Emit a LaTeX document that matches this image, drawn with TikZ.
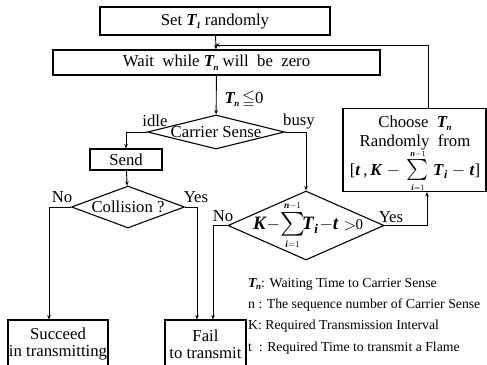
\documentclass[tikz,border=0pt]{standalone}
\usepackage{amsmath,amssymb}
\usepackage{fontspec}
\setmainfont{Liberation Serif}
\usetikzlibrary{shapes.geometric,arrows.meta}

% bold italic variables
\newcommand{\bvar}[1]{\textbf{\textit{#1}}}
\newcommand{\Tsub}[1]{\bvar{T}\kern-0.06em\raisebox{-0.45ex}{\fontsize{9}{9}\selectfont\bvar{#1}}}
% summation with small limits above and below
\newcommand{\sumlim}{\mathop{\scalebox{1.25}{$\textstyle\sum$}}\limits_{\scriptscriptstyle\text{\bvar{i}}=1}^{\scriptscriptstyle\text{\bvar{n}}-1}}

\tikzset{
  main/.style={font=\fontsize{16.8}{18}\selectfont},
  box/.style={draw, line width=1.1bp, rectangle, inner sep=0pt, align=center, main},
  decision/.style={draw, line width=1.1bp, diamond, inner sep=0pt},
  flow/.style={line width=0.9bp, -{Stealth[length=4.5bp,width=3.5bp]}},
  tag/.style={main, inner sep=0pt},
  legend/.style={font=\fontsize{13.8}{15}\selectfont, anchor=west, inner sep=0pt}
}

\begin{document}
\begin{tikzpicture}[x=1bp,y=-1bp]
\useasboundingbox (0,0) rectangle (487,364);

% process boxes
\node[box, minimum width=230bp, minimum height=28bp] (set) at (215,21) {Set \Tsub{1} randomly};
\node[box, minimum width=327bp, minimum height=25bp] (wait) at (216.5,62.5) {Wait\ \ while \Tsub{n} will\ \ be\ \ zero};
\node[box, minimum width=72bp, minimum height=21bp] (send) at (126,159.5) {Send};
\node[box, minimum width=143bp, minimum height=83bp] (choose) at (414.5,150) {};
\node[main, align=center, inner sep=0pt] (choosetxt) at (415,154)
  {Choose\ \ \Tsub{n}\\[1bp] Randomly\ \ from\\[-1bp]
   [\bvar{t}\,,\,\bvar{K}\ $-\ \sumlim$\ \bvar{T}$_{\text{\bvar{i}}}$\ $-$\ \bvar{t}]};
\node[box, minimum width=100bp, minimum height=48bp] (succeed) at (58,344) {Succeed\\[-1bp]in transmitting};
\node[box, minimum width=81bp, minimum height=48bp] (fail) at (205.5,344) {Fail\\[-1bp]to transmit};

% decisions
\node[decision, minimum width=137bp, minimum height=34bp] (cs) at (216,132) {};
\node[main] at (cs.center) {Carrier Sense};
\node[decision, minimum width=113bp, minimum height=42bp] (col) at (128,207) {};
\node[main] at (col.center) {Collision ?};
\node[decision, minimum width=156bp, minimum height=69bp] (kd) at (306,225.5) {};
\node[font=\fontsize{19}{21}\selectfont, inner sep=0pt] at ([xshift=2bp]kd.center)
  {\bvar{K}$-\!\sumlim\!$\bvar{T}$_{\text{\bvar{i}}}$\kern1bp$-$\bvar{t}\ \raisebox{-0.1ex}{$>$}\kern-1bp{\fontsize{15}{17}\selectfont 0}};

% connector bend points
\coordinate (fbtop) at (428,45);
\coordinate (join) at (215,45);

% connectors
\draw[flow] (set) -- (wait);
\draw[flow] (choose.north -| fbtop) -- (fbtop) -- (join);
\draw[flow] (wait) -- (cs);
\draw[flow] (cs.west) -| (send.north);
\draw[flow] (send) -- (col);
\draw[flow] (col.west) -| (succeed.north -| 49,0);
\draw[flow] (col.east) -| (fail.north -| 197,0);
\draw[flow] (cs.east) -| (kd.north);
\draw[flow] (kd.west) -| (fail.north -| 213,0);
\draw[flow] (kd.east) -| (choose.south -| 427,0);

% branch labels
\node[tag] (le) at (244,99) {\Tsub{n}\,$\leqq$0};
\node[tag] at (155,121) {idle};
\node[tag] at (299,121) {busy};
\node[tag] at (62,197) {No};
\node[tag] at (196,197) {Yes};
\node[tag] at (223,216) {No};
\node[tag] at (391,217) {Yes};

% legend
\node[legend] (l1) at (248,284) {\Tsub{n}: Waiting Time to Carrier Sense};
\node[legend] (l2) at (248,305) {n : The sequence number of Carrier Sense};
\node[legend] (l3) at (248,326) {K: Required Transmission Interval};
\node[legend] (l4) at (248,348) {t\ \ : Required Time to transmit a Flame};
\end{tikzpicture}
\end{document}
